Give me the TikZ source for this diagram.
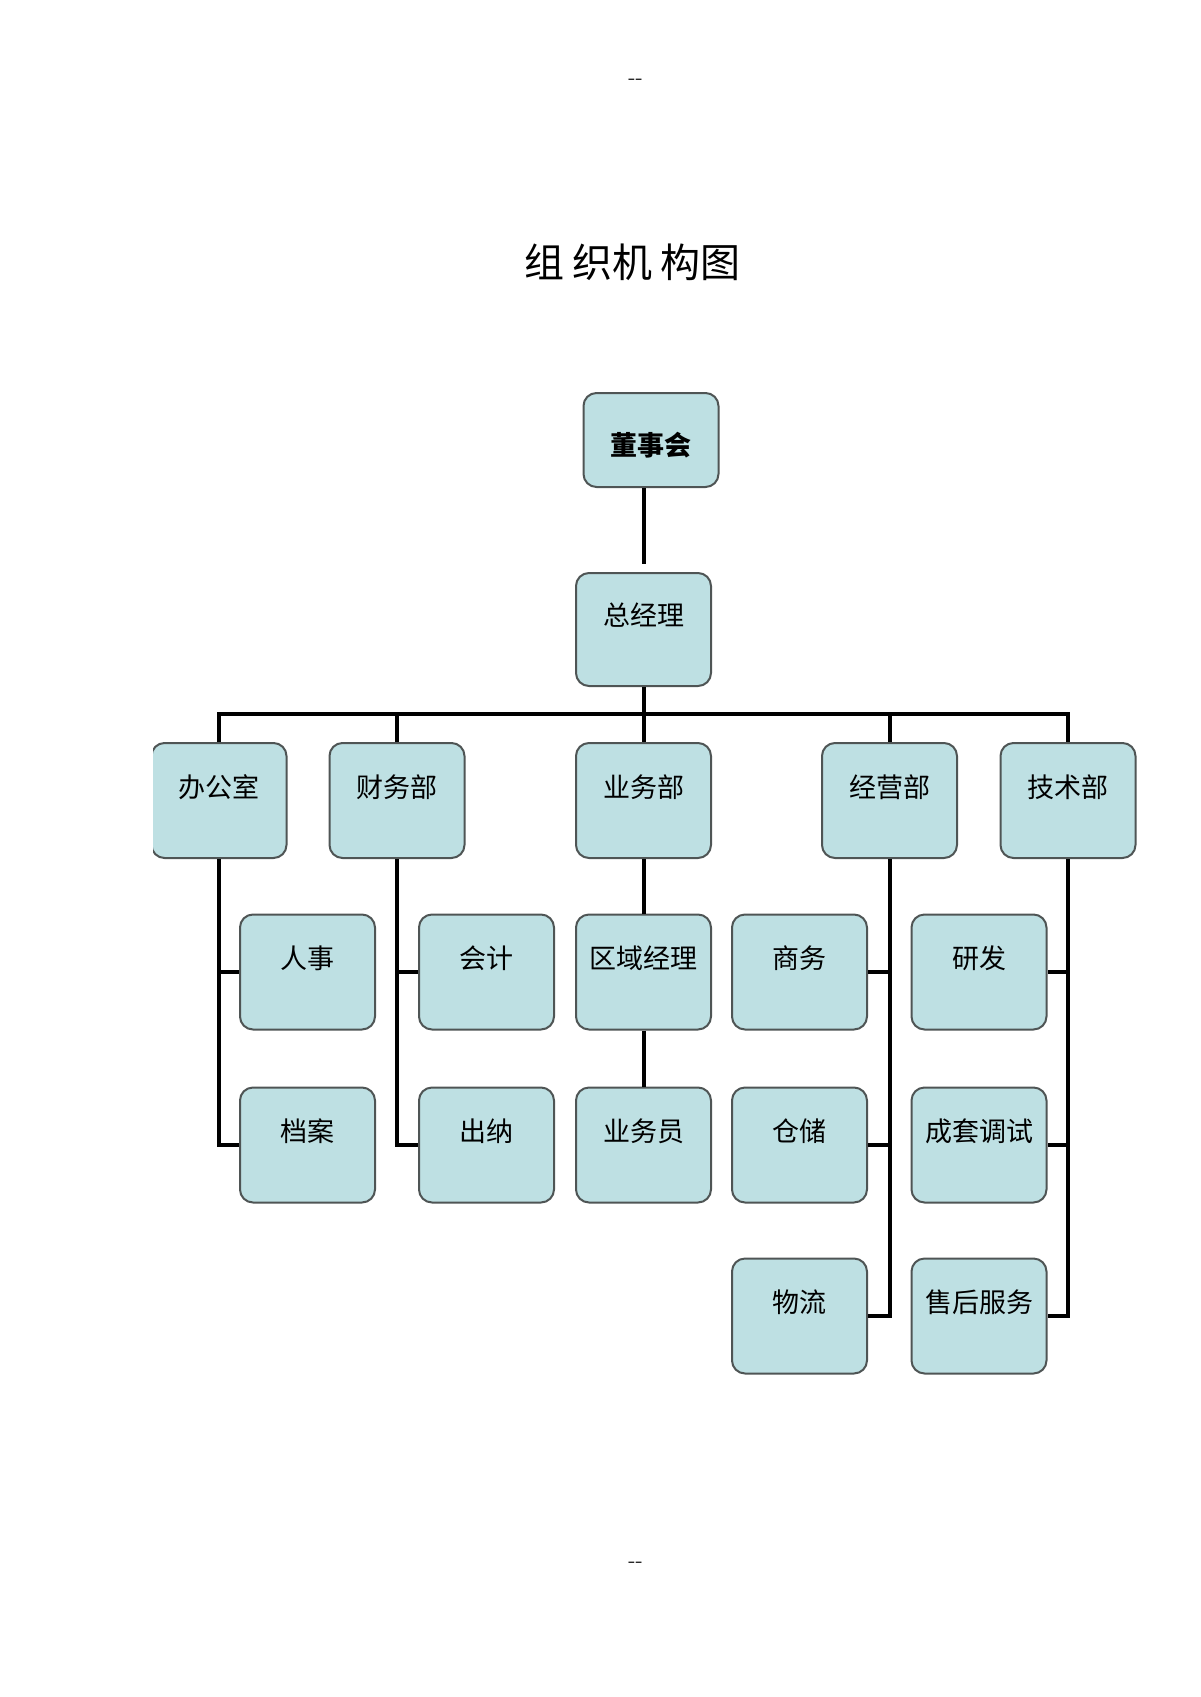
\documentclass[tikz,border=0pt]{standalone}
\usepackage{fontspec}
\newfontfamily\cjk{Noto Sans CJK SC}
\usepackage{tikz}
\usepackage{xcolor}
\definecolor{boxfill}{HTML}{BEE0E3}
\definecolor{boxline}{HTML}{4F5555}
\tikzset{
  unit/.style={draw=boxline, line width=1pt, fill=boxfill, rounded corners=6.5pt,
    minimum width=67.5pt, inner sep=0pt, text height=27pt, text depth=30.5pt,
    font=\cjk\fontsize{13.5}{13.5}\selectfont},
  link/.style={line width=2pt, black}
}

\begin{document}
\begin{tikzpicture}[x=0.5pt, y=-0.5pt]
\useasboundingbox (0,0) rectangle (1200,1697);
\node (topdash) at (635.5,82) {\fontsize{11}{11}\selectfont -{}-};
\node (botdash) at (635.5,1565) {\fontsize{11}{11}\selectfont -{}-};
\node (title) at (632.5,262) {\cjk\fontsize{20}{20}\selectfont 组\hspace{4pt}织机\hspace{4pt}构图};

% top
\node[unit, text height=31pt, text depth=16pt, font=\cjk\bfseries\fontsize{13.5}{13.5}\selectfont] (dsh) at (651,440) {董事会};
\node[unit, text height=26pt, text depth=30.5pt] (zjl) at (643.5,629.5) {总经理};

% departments
\begin{scope}
\clip (153,0) rectangle (1200,1697);
\node[unit] (bgs) at (219,800.5) {办公室};
\end{scope}
\node[unit] (cwb) at (397,800.5) {财务部};
\node[unit] (ywb) at (643.5,800.5) {业务部};
\node[unit] (jyb) at (889.5,800.5) {经营部};
\node[unit] (jsb) at (1068,800.5) {技术部};

% sections
\node[unit] (rs)   at (307.5,972) {人事};
\node[unit] (da)   at (307.5,1145) {档案};
\node[unit] (kj)   at (486.5,972) {会计};
\node[unit] (cn)   at (486.5,1145) {出纳};
\node[unit] (qyjl) at (643.5,972) {区域经理};
\node[unit] (ywy)  at (643.5,1145) {业务员};
\node[unit] (sw)   at (799.5,972) {商务};
\node[unit] (cc)   at (799.5,1145) {仓储};
\node[unit] (wl)   at (799.5,1316) {物流};
\node[unit] (yf)   at (979,972) {研发};
\node[unit] (ctts) at (979,1145) {成套调试};
\node[unit] (shfw) at (979,1316) {售后服务};

% connectors
\coordinate (bus) at (0,714);
\draw[link] (zjl.north |- dsh.south) -- ([yshift=4pt]zjl.north);
\draw[link] (zjl.south) -- (ywb.north);
\draw[link] (bgs.north) -- (bgs.north |- bus) -- (jsb.north |- bus) -- (jsb.north);
\draw[link] (cwb.north) -- (cwb.north |- bus);
\draw[link] (jyb.north) -- (jyb.north |- bus);
\draw[link] (bgs.south) |- (rs.west);
\draw[link] (bgs.south) |- (da.west);
\draw[link] (cwb.south) |- (kj.west);
\draw[link] (cwb.south) |- (cn.west);
\draw[link] (ywb.south) -- (qyjl.north);
\draw[link] (qyjl.south) -- (ywy.north);
\draw[link] (jyb.south) |- (sw.east);
\draw[link] (jyb.south) |- (cc.east);
\draw[link] (jyb.south) |- (wl.east);
\draw[link] (jsb.south) |- (yf.east);
\draw[link] (jsb.south) |- (ctts.east);
\draw[link] (jsb.south) |- (shfw.east);
\end{tikzpicture}
\end{document}
